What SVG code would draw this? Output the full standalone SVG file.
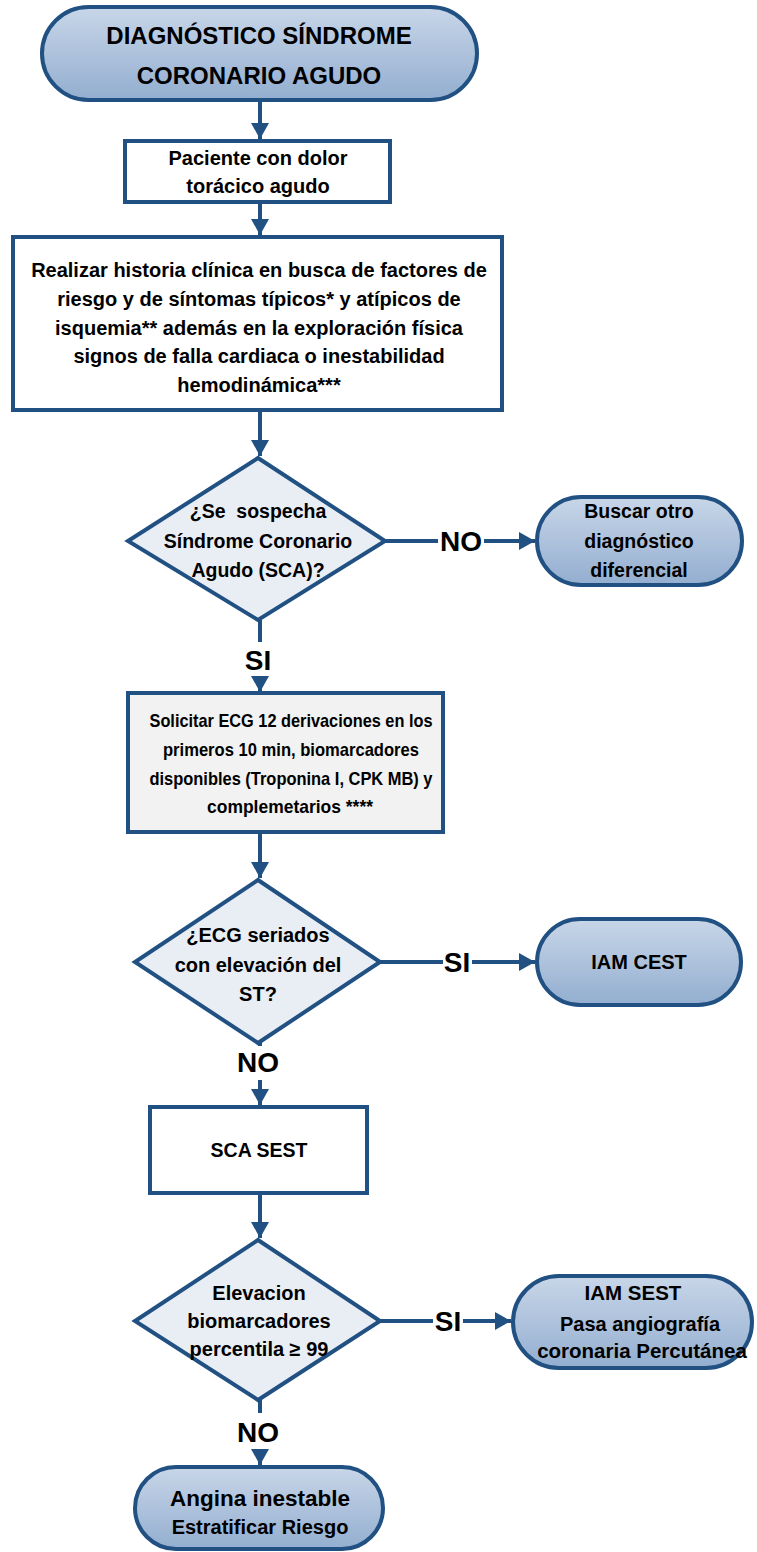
<svg xmlns="http://www.w3.org/2000/svg" width="757" height="1552" viewBox="0 0 757 1552">
<style>
.t{font-family:"Liberation Sans",Arial,sans-serif;font-weight:bold;fill:#000;text-anchor:middle}
.term{fill:url(#g);stroke:#215082;stroke-width:4}
.box{fill:#fff;stroke:#215082;stroke-width:4}
.grey{fill:#f2f2f2;stroke:#215082;stroke-width:4}
.dia{fill:#e9eef5;stroke:#215082;stroke-width:4;stroke-linejoin:miter}
.c{stroke:#215082;stroke-width:4;fill:none}
.lbl{font-size:28px}
</style>
<defs>
<linearGradient id="g" x1="0" y1="0" x2="0" y2="1">
<stop offset="0" stop-color="#c8d6e8"/>
<stop offset="1" stop-color="#93aed0"/>
</linearGradient>
<marker id="a" markerUnits="userSpaceOnUse" markerWidth="18" markerHeight="18" refX="16" refY="9" orient="auto">
<path d="M0,0 L16,9 L0,18 Z" fill="#215082"/>
</marker>
</defs>
<g id="connectors">
<line class="c" x1="260" y1="100" x2="260" y2="139" marker-end="url(#a)"/>
<line class="c" x1="260" y1="202" x2="260" y2="235" marker-end="url(#a)"/>
<line class="c" x1="260" y1="410" x2="260" y2="456" marker-end="url(#a)"/>
<line class="c" x1="385" y1="541" x2="438" y2="541"/>
<line class="c" x1="484" y1="541" x2="535" y2="541" marker-end="url(#a)"/>
<line class="c" x1="260" y1="620" x2="260" y2="642"/>
<line class="c" x1="260" y1="677" x2="260" y2="692" marker-end="url(#a)"/>
<line class="c" x1="260" y1="832" x2="260" y2="878" marker-end="url(#a)"/>
<line class="c" x1="380" y1="962" x2="443" y2="962"/>
<line class="c" x1="472" y1="962" x2="535" y2="962" marker-end="url(#a)"/>
<line class="c" x1="260" y1="1043" x2="260" y2="1046"/>
<line class="c" x1="260" y1="1080" x2="260" y2="1105" marker-end="url(#a)"/>
<line class="c" x1="260" y1="1193" x2="260" y2="1238" marker-end="url(#a)"/>
<line class="c" x1="380" y1="1321" x2="433" y2="1321"/>
<line class="c" x1="463" y1="1321" x2="511" y2="1321" marker-end="url(#a)"/>
<line class="c" x1="260" y1="1400" x2="260" y2="1413"/>
<line class="c" x1="260" y1="1452" x2="260" y2="1465" marker-end="url(#a)"/>
<text class="t lbl" x="461" y="551">NO</text>
<text class="t lbl" x="258" y="670">SI</text>
<text class="t lbl" x="457" y="972">SI</text>
<text class="t lbl" x="258" y="1072">NO</text>
<text class="t lbl" x="448" y="1331">SI</text>
<text class="t lbl" x="258" y="1442">NO</text>
</g>
<g id="start">
<rect class="term" x="42" y="7" width="435" height="93" rx="46.5"/>
<text class="t" x="259" y="44" font-size="24">DIAGNÓSTICO SÍNDROME</text>
<text class="t" x="259" y="84" font-size="24">CORONARIO AGUDO</text>
</g>
<g id="paciente">
<rect class="box" x="125" y="141" width="265" height="61"/>
<text class="t" x="258" y="165" font-size="20">Paciente con dolor</text>
<text class="t" x="258" y="193" font-size="20">torácico agudo</text>
</g>
<g id="historia">
<rect class="box" x="13" y="237" width="489" height="173"/>
<text class="t" x="259" y="277" font-size="20">Realizar historia clínica en busca de factores de</text>
<text class="t" x="259" y="306" font-size="20">riesgo y de síntomas típicos* y atípicos de</text>
<text class="t" x="259" y="335" font-size="20">isquemia** además en la exploración física</text>
<text class="t" x="259" y="363" font-size="20">signos de falla cardiaca o inestabilidad</text>
<text class="t" x="259" y="392" font-size="20">hemodinámica***</text>
</g>
<g id="sospecha">
<polygon class="dia" points="258,458 385,541 258,620 128,541"/>
<text class="t" x="258" y="518" font-size="19.5" xml:space="preserve">¿Se  sospecha</text>
<text class="t" x="258" y="548" font-size="19.5">Síndrome Coronario</text>
<text class="t" x="258" y="577" font-size="19.5">Agudo (SCA)?</text>
</g>
<g id="otro">
<rect class="term" x="537" y="497" width="205" height="88" rx="44"/>
<text class="t" x="639" y="518" font-size="19.5">Buscar otro</text>
<text class="t" x="639" y="548" font-size="19.5">diagnóstico</text>
<text class="t" x="639" y="577" font-size="19.5">diferencial</text>
</g>
<g id="ecg">
<rect class="grey" x="128" y="693" width="315" height="139"/>
<text class="t" x="291" y="727" font-size="19" textLength="283" lengthAdjust="spacingAndGlyphs">Solicitar ECG 12 derivaciones en los</text>
<text class="t" x="291" y="756" font-size="19" textLength="256" lengthAdjust="spacingAndGlyphs">primeros 10 min, biomarcadores</text>
<text class="t" x="291" y="785" font-size="19" textLength="283" lengthAdjust="spacingAndGlyphs">disponibles (Troponina I, CPK MB) y</text>
<text class="t" x="290" y="813" font-size="19" textLength="166" lengthAdjust="spacingAndGlyphs">complemetarios ****</text>
</g>
<g id="elevacionST">
<polygon class="dia" points="258,880 380,962 258,1043 135,962"/>
<text class="t" x="258" y="942" font-size="20">¿ECG seriados</text>
<text class="t" x="258" y="972" font-size="20">con elevación del</text>
<text class="t" x="258" y="1001" font-size="20">ST?</text>
</g>
<g id="iamcest">
<rect class="term" x="537" y="919" width="204" height="86" rx="43"/>
<text class="t" x="639" y="969" font-size="20">IAM CEST</text>
</g>
<g id="scasest">
<rect class="box" x="150" y="1107" width="217" height="86"/>
<text class="t" x="259" y="1157" font-size="19.5">SCA SEST</text>
</g>
<g id="biomarcadores">
<polygon class="dia" points="258,1240 380,1321 258,1400 135,1321"/>
<text class="t" x="259" y="1300" font-size="20">Elevacion</text>
<text class="t" x="259" y="1328" font-size="20">biomarcadores</text>
<text class="t" x="259" y="1356" font-size="20">percentila ≥ 99</text>
</g>
<g id="iamsest">
<rect class="term" x="513" y="1276" width="239" height="92" rx="46"/>
<text class="t" x="633" y="1300" font-size="20.5">IAM SEST</text>
<text class="t" x="640" y="1331" font-size="20">Pasa angiografía</text>
<text class="t" x="642" y="1358" font-size="20.5">coronaria Percutánea</text>
</g>
<g id="angina">
<rect class="term" x="135" y="1467" width="248" height="82" rx="41"/>
<text class="t" x="260" y="1506" font-size="22.5">Angina inestable</text>
<text class="t" x="260" y="1534" font-size="20">Estratificar Riesgo</text>
</g>
</svg>
